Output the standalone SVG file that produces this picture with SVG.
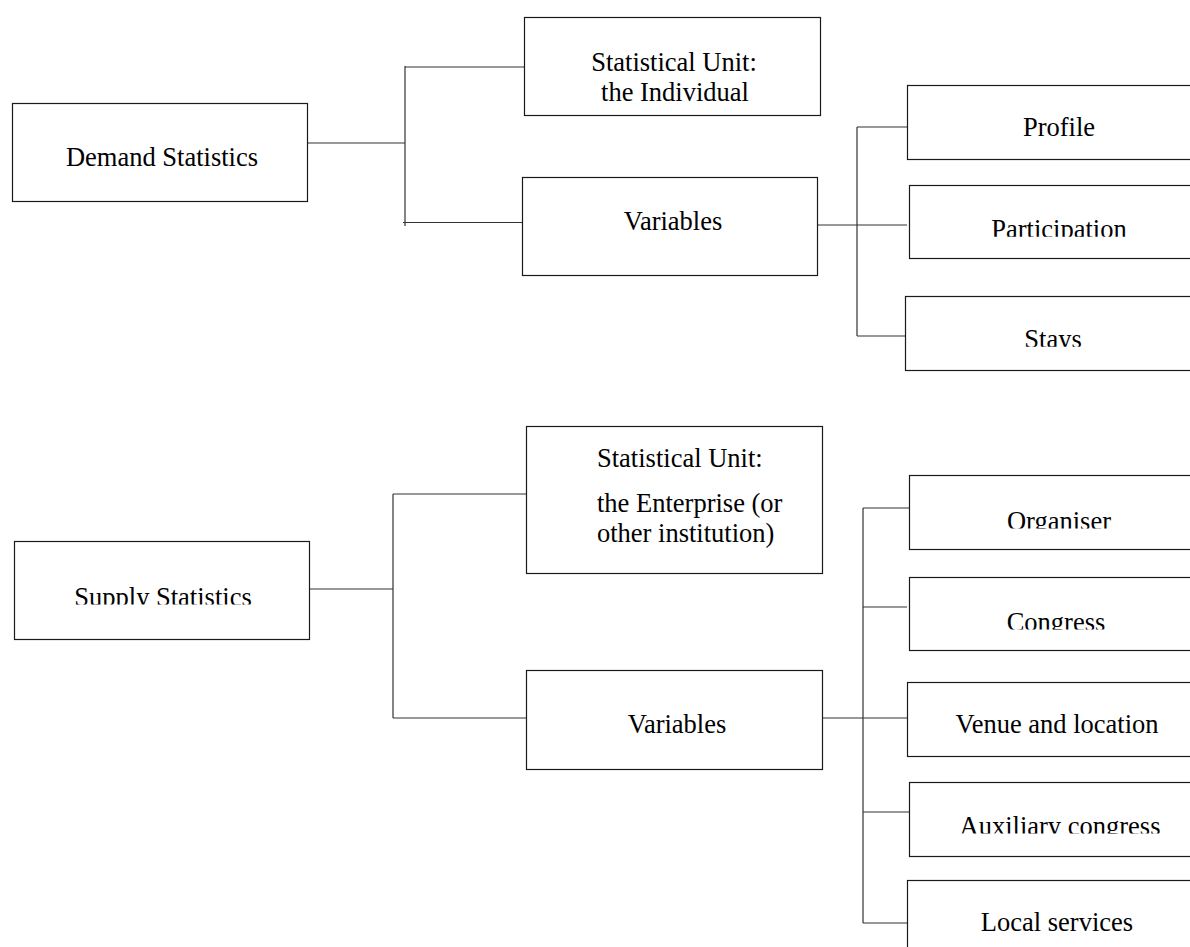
<svg xmlns="http://www.w3.org/2000/svg" width="1190" height="947" viewBox="0 0 1190 947">
<style>
.box{fill:#fff;stroke:#1a1a1a;stroke-width:1.2}
.t{font-family:"Liberation Serif","Times New Roman",serif;font-size:26.5px;fill:#000;text-anchor:middle}
.l{text-anchor:start}
.c{fill:none;stroke:#333;stroke-width:1.2}
</style>
<defs>
<clipPath id="cPart"><rect x="900" y="180" width="300" height="56.7"/></clipPath>
<clipPath id="cStays"><rect x="900" y="290" width="300" height="56.8"/></clipPath>
<clipPath id="cSupply"><rect x="10" y="535" width="310" height="69.5"/></clipPath>
<clipPath id="cOrg"><rect x="900" y="470" width="300" height="58.5"/></clipPath>
<clipPath id="cCong"><rect x="900" y="570" width="300" height="59.5"/></clipPath>
<clipPath id="cAux"><rect x="900" y="775" width="300" height="58.5"/></clipPath>
</defs>
<rect width="1190" height="947" fill="#fff"/>
<g id="connectors">
<path class="c" d="M305,143 H405 M405,66 V226 M405,67 H524 M403,222.5 H522 M818,225 H907 M857,127 V336 M857,127 H907 M857,336 H905"/>
<path class="c" d="M307,589 H393 M393,494 V718 M393,494 H526 M393,718 H526 M822,718 H907 M863,508 V923 M863,508 H909 M863,607 H907 M863,812 H909 M863,923 H907"/>
</g>
<g id="demand-statistics"><rect class="box" x="12.5" y="103.5" width="295" height="98"/><text class="t" x="162" y="166">Demand Statistics</text></g>
<g id="demand-unit"><rect class="box" x="524.5" y="17.5" width="296" height="98"/><text class="t" x="674" y="71">Statistical Unit:</text><text class="t" x="675" y="101">the Individual</text></g>
<g id="demand-variables"><rect class="box" x="522.5" y="177.5" width="295" height="98"/><text class="t" x="673" y="230">Variables</text></g>
<g id="profile"><rect class="box" x="907.5" y="85.5" width="300" height="74"/><text class="t" x="1059" y="136">Profile</text></g>
<g id="participation"><rect class="box" x="909.5" y="185.5" width="300" height="73"/><text class="t" x="1059" y="238" clip-path="url(#cPart)">Participation</text></g>
<g id="stays"><rect class="box" x="905.5" y="296.5" width="300" height="74"/><text class="t" x="1053" y="348" clip-path="url(#cStays)">Stays</text></g>
<g id="supply-statistics"><rect class="box" x="14.5" y="541.5" width="295" height="98"/><text class="t" x="163" y="605.5" clip-path="url(#cSupply)">Supply Statistics</text></g>
<g id="supply-unit"><rect class="box" x="526.5" y="426.5" width="296" height="147"/><text class="t l" x="597" y="467">Statistical Unit:</text><text class="t l" x="597" y="512">the Enterprise (or</text><text class="t l" x="597" y="542">other institution)</text></g>
<g id="supply-variables"><rect class="box" x="526.5" y="670.5" width="296" height="99"/><text class="t" x="677" y="733">Variables</text></g>
<g id="organiser"><rect class="box" x="909.5" y="475.5" width="300" height="74"/><text class="t" x="1059" y="529.5" clip-path="url(#cOrg)">Organiser</text></g>
<g id="congress"><rect class="box" x="909.5" y="577.5" width="300" height="73"/><text class="t" x="1056" y="630.5" clip-path="url(#cCong)">Congress</text></g>
<g id="venue"><rect class="box" x="907.5" y="682.5" width="300" height="74"/><text class="t" x="1057" y="733">Venue and location</text></g>
<g id="auxiliary"><rect class="box" x="909.5" y="782.5" width="300" height="74"/><text class="t" x="1060" y="834.5" clip-path="url(#cAux)">Auxiliary congress</text></g>
<g id="local-services"><rect class="box" x="907.5" y="880.5" width="300" height="100"/><text class="t" x="1057" y="931">Local services</text></g>
</svg>
